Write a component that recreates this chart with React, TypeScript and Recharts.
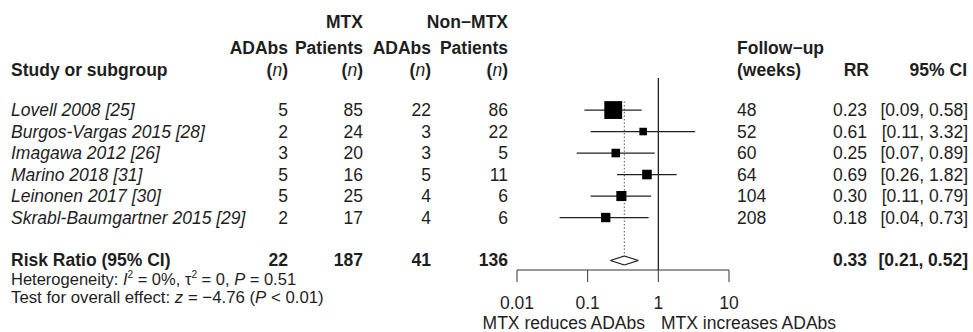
import React from 'react';
import { ScatterChart, Scatter, XAxis, YAxis, ReferenceLine } from 'recharts';

// study rows
const studies = [
  'Lovell 2008 [25]',
  'Burgos-Vargas 2015 [28]',
  'Imagawa 2012 [26]',
  'Marino 2018 [31]',
  'Leinonen 2017 [30]',
  'Skrabl-Baumgartner 2015 [29]',
];
const mtxAdabs = [5, 2, 3, 5, 5, 2];
const mtxPatients = [85, 24, 20, 16, 25, 17];
const nonMtxAdabs = [22, 3, 3, 5, 4, 4];
const nonMtxPatients = [86, 22, 5, 11, 6, 6];
const followUpWeeks = [48, 52, 60, 64, 104, 208];
const riskRatio = [0.23, 0.61, 0.25, 0.69, 0.3, 0.18];
const ciLower = [0.09, 0.11, 0.07, 0.26, 0.11, 0.04];
const ciUpper = [0.58, 3.32, 0.89, 1.82, 0.79, 0.73];
const weights = [43.7, 7.8, 10.1, 12.6, 13.9, 12.0]; // % weight

// pooled result
const pooledTotals = [22, 187, 41, 136];
const pooledRR = 0.33;
const pooledLower = 0.21;
const pooledUpper = 0.52;

const axisTicks = [0.01, 0.1, 1, 10];

const FONT = '"Liberation Sans", Arial, Helvetica, sans-serif';
const FS = 17.5;
const INK = '#1e1e1e';

// layout shared between chart and text table
const PLOT_TOP = 78;
const PLOT_BOTTOM = 270;
const ROW_H = 21.5;
const Y_MIN = -0.49;
const Y_MAX = Y_MIN + (PLOT_BOTTOM - PLOT_TOP) / ROW_H;
const POOLED_ROW = 8;
const DIAMOND_H = 0.21;

const rowY = (r: number) => PLOT_TOP + (r - Y_MIN) * ROW_H;

const squareData = studies.map((s, i) => ({ x: riskRatio[i], y: i + 1, w: weights[i] }));

const Square = (props: any) => {
  const { cx, cy, payload } = props;
  const side = 2.7 * Math.sqrt(payload.w);
  return <rect x={cx - side / 2} y={cy - side / 2} width={side} height={side} fill="#000" />;
};

const diamond = [
  { x: pooledLower, y: POOLED_ROW },
  { x: pooledRR, y: POOLED_ROW - DIAMOND_H },
  { x: pooledUpper, y: POOLED_ROW },
  { x: pooledRR, y: POOLED_ROW + DIAMOND_H },
];

const colsRight = [288, 363, 431, 508];

const T = (p: any) => (
  <text
    x={p.x}
    y={p.y}
    textAnchor={p.anchor || 'start'}
    dominantBaseline="central"
    fontWeight={p.bold ? 'bold' : 'normal'}
    fontStyle={p.italic ? 'italic' : 'normal'}
    fontSize={p.size || FS}
    fill={INK}
  >
    {p.children}
  </text>
);

export default function App() {
  const fmt = (v: number) => v.toFixed(2);
  const pooledY = rowY(POOLED_ROW) - 0.5;
  return (
    <div style={{ position: 'absolute', left: 0, top: 0, width: 973, height: 332, background: '#fff', fontFamily: FONT }}>
      <ScatterChart width={973} height={332} margin={{ top: PLOT_TOP, right: 244, bottom: 12, left: 517 }}>
        <XAxis
          type="number"
          dataKey="x"
          scale="log"
          domain={[0.01, 10]}
          ticks={axisTicks}
          allowDataOverflow
          height={50}
          tickSize={12}
          tickMargin={15}
          stroke="#333"
          tick={{ fill: INK, fontSize: FS, fontFamily: FONT }}
          tickFormatter={(v) => String(v)}
        />
        <YAxis type="number" dataKey="y" hide width={0} domain={[Y_MIN, Y_MAX]} reversed allowDataOverflow />
        <ReferenceLine x={1} stroke="#111" strokeWidth={1.2} />
        <ReferenceLine
          segment={[{ x: pooledRR, y: 0.6 }, { x: pooledRR, y: POOLED_ROW - DIAMOND_H }]}
          stroke="#555"
          strokeDasharray="1.5 2"
        />
        {studies.map((s, i) => (
          <ReferenceLine
            key={s}
            segment={[{ x: ciLower[i], y: i + 1 }, { x: ciUpper[i], y: i + 1 }]}
            stroke="#222"
            strokeWidth={1.2}
          />
        ))}
        {diamond.map((p, i) => (
          <ReferenceLine key={'d' + i} segment={[p, diamond[(i + 1) % 4]]} stroke="#111" strokeWidth={1.2} />
        ))}
        <Scatter data={squareData} shape={Square} isAnimationActive={false} />
      </ScatterChart>

      <svg
        width={973}
        height={332}
        style={{ position: 'absolute', left: 0, top: 0, pointerEvents: 'none', fontFamily: FONT }}
      >
        {/* header */}
        <T x={363} y={21.7} anchor="end" bold>MTX</T>
        <T x={508} y={21.7} anchor="end" bold>Non−MTX</T>
        <T x={288} y={48} anchor="end" bold>ADAbs</T>
        <T x={363} y={48} anchor="end" bold>Patients</T>
        <T x={431} y={48} anchor="end" bold>ADAbs</T>
        <T x={508} y={48} anchor="end" bold>Patients</T>
        <T x={11} y={70} bold>Study or subgroup</T>
        {colsRight.map((cx) => (
          <T key={cx} x={cx} y={70} anchor="end" bold>
            (<tspan fontStyle="italic" fontWeight="normal">n</tspan>)
          </T>
        ))}
        <T x={737} y={48} bold>Follow−up</T>
        <T x={737} y={69.5} bold>(weeks)</T>
        <T x={869} y={69.5} anchor="end" bold>RR</T>
        <T x={967} y={69.5} anchor="end" bold>95% CI</T>

        {/* study rows */}
        {studies.map((s, i) => {
          const y = rowY(i + 1);
          return (
            <g key={s}>
              <T x={11} y={y} italic>{s}</T>
              <T x={colsRight[0]} y={y} anchor="end">{mtxAdabs[i]}</T>
              <T x={colsRight[1]} y={y} anchor="end">{mtxPatients[i]}</T>
              <T x={colsRight[2]} y={y} anchor="end">{nonMtxAdabs[i]}</T>
              <T x={colsRight[3]} y={y} anchor="end">{nonMtxPatients[i]}</T>
              <T x={737} y={y}>{followUpWeeks[i]}</T>
              <T x={867} y={y} anchor="end">{fmt(riskRatio[i])}</T>
              <T x={968} y={y} anchor="end">[{fmt(ciLower[i])}, {fmt(ciUpper[i])}]</T>
            </g>
          );
        })}

        {/* pooled row */}
        <T x={11} y={pooledY} bold>Risk Ratio (95% CI)</T>
        {pooledTotals.map((v, i) => (
          <T key={i} x={colsRight[i]} y={pooledY} anchor="end" bold>{v}</T>
        ))}
        <T x={867} y={pooledY} anchor="end" bold>{fmt(pooledRR)}</T>
        <T x={968} y={pooledY} anchor="end" bold>[{fmt(pooledLower)}, {fmt(pooledUpper)}]</T>

        {/* footnotes */}
        <T x={11} y={278.5} size={16.5}>
          Heterogeneity: <tspan fontStyle="italic">I</tspan>
          <tspan dy={-5} fontSize={10}>2</tspan>
          <tspan dy={5}> = 0%, τ</tspan>
          <tspan dy={-5} fontSize={10}>2</tspan>
          <tspan dy={5}> = 0, </tspan>
          <tspan fontStyle="italic">P</tspan> = 0.51
        </T>
        <T x={11} y={297} size={16.8}>
          Test for overall effect: <tspan fontStyle="italic">z</tspan> = −4.76 (<tspan fontStyle="italic">P</tspan> &lt; 0.01)
        </T>

        {/* direction labels */}
        <T x={645} y={322.5} anchor="end">MTX reduces ADAbs</T>
        <T x={661} y={322.5}>MTX increases ADAbs</T>
      </svg>
    </div>
  );
}
